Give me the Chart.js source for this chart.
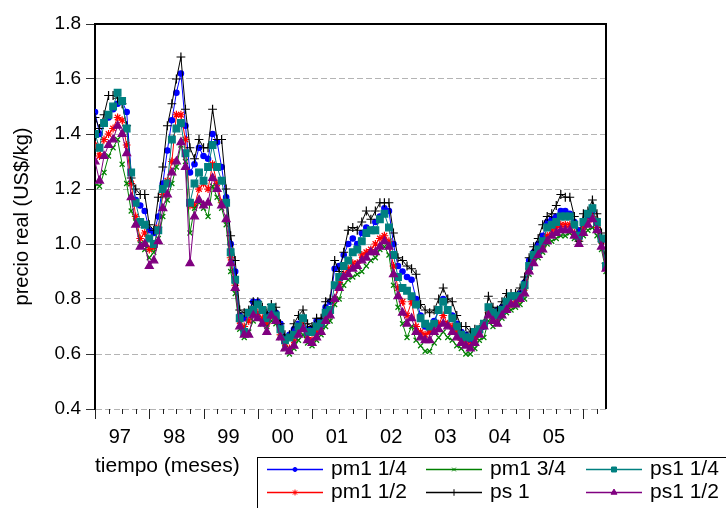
<!DOCTYPE html>
<html>
<head>
<meta charset="utf-8">
<script src="https://cdn.jsdelivr.net/npm/chart.js"></script>
<style>
  html, body { margin: 0; padding: 0; background: #fff; }
</style>
</head>
<body>
<canvas id="chart" width="726" height="508"></canvas>
<script>
// monthly series, 1997M01 .. 2006M06
const yearLabels = ['97', '98', '99', '00', '01', '02', '03', '04', '05']

const pm1_14 = [
  1.48,1.40,1.44,1.46,1.49,1.51,1.52,1.48,1.26,1.16,1.14,1.12,
  1.05,1.04,1.10,1.22,1.34,1.45,1.55,1.62,1.43,1.26,1.29,1.35,
  1.32,1.31,1.40,1.37,1.28,1.17,1.00,0.90,0.74,0.73,0.75,0.79,
  0.79,0.76,0.74,0.76,0.75,0.71,0.66,0.67,0.69,0.71,0.73,0.69,
  0.69,0.72,0.72,0.77,0.79,0.91,0.92,0.96,1.00,1.02,1.00,1.04,
  1.06,1.05,1.08,1.10,1.13,1.12,1.00,0.92,0.90,0.88,0.87,0.80,
  0.74,0.70,0.69,0.72,0.76,0.80,0.76,0.74,0.71,0.68,0.67,0.65,
  0.66,0.68,0.70,0.77,0.75,0.76,0.77,0.79,0.81,0.81,0.82,0.86,
  0.94,0.97,1.00,1.03,1.08,1.09,1.10,1.12,1.12,1.11,1.08,1.05,
  1.08,1.10,1.12,1.08,1.01,0.92
]
const pm1_12 = [
  1.36,1.32,1.38,1.40,1.42,1.46,1.45,1.36,1.22,1.10,1.02,1.04,
  0.98,0.99,1.06,1.18,1.23,1.30,1.47,1.47,1.38,1.14,1.14,1.20,
  1.22,1.20,1.29,1.22,1.15,1.15,0.95,0.85,0.72,0.70,0.72,0.75,
  0.75,0.73,0.71,0.74,0.72,0.67,0.64,0.62,0.65,0.69,0.71,0.66,
  0.65,0.68,0.70,0.73,0.75,0.80,0.86,0.89,0.91,0.93,0.93,0.96,
  0.97,0.98,1.00,1.02,1.03,1.01,0.92,0.84,0.79,0.74,0.79,0.70,
  0.68,0.67,0.68,0.70,0.71,0.74,0.71,0.70,0.68,0.65,0.64,0.63,
  0.66,0.68,0.71,0.75,0.73,0.73,0.75,0.77,0.78,0.79,0.80,0.84,
  0.91,0.95,0.98,0.99,1.03,1.05,1.06,1.07,1.07,1.07,1.04,1.02,
  1.06,1.08,1.10,1.06,1.01,0.92
]
const pm1_34 = [
  1.22,1.21,1.26,1.32,1.35,1.38,1.29,1.22,1.12,1.08,1.00,0.98,
  0.95,0.97,1.02,1.10,1.16,1.22,1.28,1.36,1.30,1.04,1.13,1.15,
  1.13,1.10,1.21,1.17,1.13,1.07,0.90,0.82,0.69,0.66,0.68,0.72,
  0.73,0.71,0.70,0.72,0.71,0.66,0.62,0.60,0.62,0.65,0.67,0.64,
  0.63,0.65,0.67,0.70,0.72,0.78,0.80,0.85,0.87,0.88,0.89,0.90,
  0.92,0.94,0.95,0.98,0.99,0.96,0.85,0.77,0.71,0.66,0.70,0.65,
  0.63,0.61,0.61,0.64,0.66,0.68,0.66,0.65,0.63,0.62,0.60,0.60,
  0.62,0.65,0.66,0.72,0.70,0.71,0.73,0.75,0.76,0.77,0.78,0.80,
  0.89,0.93,0.95,0.97,1.00,1.01,1.02,1.03,1.03,1.04,1.02,1.00,
  1.03,1.05,1.06,1.03,0.98,0.90
]
const ps_1 = [
  1.46,1.42,1.47,1.54,1.54,1.53,1.51,1.43,1.24,1.20,1.18,1.18,
  1.07,1.05,1.17,1.28,1.43,1.51,1.60,1.68,1.49,1.35,1.31,1.38,
  1.35,1.35,1.49,1.38,1.38,1.20,1.03,0.94,0.76,0.75,0.76,0.79,
  0.79,0.77,0.75,0.78,0.77,0.71,0.67,0.67,0.71,0.74,0.76,0.71,
  0.70,0.73,0.73,0.79,0.80,0.94,0.90,0.97,1.05,1.06,1.05,1.08,
  1.12,1.09,1.12,1.15,1.15,1.15,1.04,0.95,0.94,0.92,0.91,0.89,
  0.78,0.76,0.75,0.76,0.80,0.84,0.80,0.79,0.74,0.70,0.70,0.68,
  0.69,0.69,0.71,0.81,0.77,0.76,0.79,0.82,0.82,0.82,0.84,0.88,
  0.95,0.99,1.02,1.07,1.10,1.11,1.14,1.18,1.17,1.17,1.10,1.01,
  1.11,1.12,1.16,1.11,1.04,0.93
]
const ps1_14 = [
  1.40,1.35,1.44,1.47,1.50,1.55,1.52,1.42,1.26,1.15,1.08,1.07,
  1.02,1.00,1.05,1.20,1.22,1.38,1.42,1.44,1.33,1.15,1.22,1.26,
  1.23,1.28,1.36,1.28,1.23,1.15,0.97,0.87,0.73,0.68,0.75,0.76,
  0.78,0.76,0.73,0.77,0.74,0.69,0.65,0.66,0.67,0.70,0.73,0.68,
  0.68,0.70,0.71,0.75,0.76,0.85,0.88,0.92,0.94,0.97,0.98,1.01,
  1.04,1.05,1.05,1.09,1.11,1.06,0.96,0.88,0.84,0.83,0.81,0.78,
  0.73,0.71,0.70,0.71,0.76,0.79,0.76,0.73,0.70,0.67,0.66,0.66,
  0.68,0.69,0.71,0.77,0.75,0.74,0.76,0.79,0.81,0.81,0.81,0.85,
  0.92,0.96,0.98,1.01,1.06,1.07,1.08,1.10,1.10,1.10,1.07,1.03,
  1.08,1.11,1.13,1.08,1.02,0.92
]
const ps1_12 = [
  1.30,1.23,1.32,1.36,1.38,1.43,1.40,1.33,1.17,1.07,0.99,1.00,
  0.92,0.94,1.01,1.13,1.18,1.26,1.30,1.37,1.28,0.93,1.10,1.16,
  1.14,1.15,1.24,1.20,1.14,1.09,0.93,0.84,0.70,0.67,0.67,0.74,
  0.73,0.71,0.68,0.74,0.72,0.66,0.62,0.61,0.63,0.67,0.69,0.65,
  0.64,0.66,0.68,0.72,0.74,0.80,0.84,0.88,0.89,0.91,0.92,0.94,
  0.95,0.97,0.97,0.99,1.01,0.99,0.89,0.81,0.75,0.71,0.73,0.68,
  0.66,0.65,0.65,0.68,0.69,0.71,0.70,0.68,0.66,0.64,0.63,0.62,
  0.64,0.67,0.70,0.74,0.72,0.71,0.74,0.76,0.78,0.78,0.80,0.82,
  0.90,0.93,0.96,0.98,1.01,1.03,1.04,1.05,1.05,1.05,1.03,1.00,
  1.04,1.07,1.09,1.05,0.99,0.91
]

const seriesNames = ['pm1 1/4', 'pm1 1/2', 'pm1 3/4', 'ps 1', 'ps1 1/4', 'ps1 1/2']
const seriesValues = [pm1_14, pm1_12, pm1_34, ps_1, ps1_14, ps1_12]
const seriesColors = ['#0000ff', '#ff0000', '#008000', '#000000', '#008080', '#800080']
const seriesMarkers = ['circle', 'star', 'crossRot', 'cross', 'rect', 'triangle']
const markerSizes = [2.7, 3.9, 3.5, 4.4, 4.7, 4.6]

Chart.defaults.font.family = "'Liberation Sans', Arial, sans-serif"
Chart.defaults.color = '#000'

const datasets = seriesNames.map((name, k) => ({
  label: name,
  data: seriesValues[k].map((v, i) => ({x: i, y: v})),
  borderColor: seriesColors[k],
  backgroundColor: seriesColors[k],
  borderWidth: 1,
  pointStyle: seriesMarkers[k],
  pointRadius: markerSizes[k],
  pointBorderWidth: 1.2,
  pointHoverRadius: markerSizes[k],
  tension: 0,
  order: seriesNames.length - k   // last series drawn on top
}))

// frame (top/right) and quarterly axis tick marks
const framePlugin = {
  id: 'frame',
  afterDraw(chart) {
    const {ctx, chartArea: a} = chart
    const x = chart.scales.x
    ctx.save()
    ctx.strokeStyle = '#000'
    ctx.lineWidth = 2
    ctx.beginPath()
    ctx.moveTo(a.left, a.top)
    ctx.lineTo(a.right, a.top)
    ctx.lineTo(a.right, a.bottom)
    ctx.stroke()

    ctx.lineWidth = 1
    ctx.strokeStyle = '#222'
    ctx.beginPath()
    for (let m = 0; m <= x.max; m += 3) {
      const px = Math.round(x.getPixelForValue(m)) + 0.5
      const len = m % 12 === 0 ? 10 : 5
      ctx.moveTo(px, a.bottom)
      ctx.lineTo(px, a.bottom + len)
    }
    ctx.stroke()
    ctx.restore()
  }
}

// boxed legend, 3 columns x 2 rows
const boxLegend = {
  id: 'boxLegend',
  afterDraw(chart) {
    const ctx = chart.ctx
    const colX = [267, 426, 586]
    const rowY = [469, 492]
    ctx.save()
    ctx.strokeStyle = '#000'
    ctx.lineWidth = 1
    ctx.strokeRect(257.5, 457.5, 520, 80)
    ctx.font = "21px 'Liberation Sans', Arial, sans-serif"
    ctx.textBaseline = 'middle'
    ctx.textAlign = 'left'
    chart.data.datasets.forEach((ds, k) => {
      const lx = colX[Math.floor(k / 2)]
      const ly = rowY[k % 2]
      ctx.strokeStyle = ds.borderColor
      ctx.fillStyle = ds.borderColor
      ctx.lineWidth = 1.5
      ctx.beginPath()
      ctx.moveTo(lx, ly + 0.5)
      ctx.lineTo(lx + 56, ly + 0.5)
      ctx.stroke()
      ctx.lineWidth = 1
      Chart.helpers.drawPoint(ctx, {
        pointStyle: ds.pointStyle, radius: ds.pointRadius * 0.75, rotation: 0, borderWidth: 1
      }, lx + 28, ly + 0.5)
      ctx.fillStyle = '#000'
      ctx.fillText(ds.label, lx + 64, ly)
    })
    ctx.restore()
  }
}

new Chart(document.getElementById('chart'), {
  type: 'line',
  data: {datasets},
  options: {
    responsive: false,
    animation: false,
    events: [],
    layout: {padding: {top: 24, right: 120, bottom: 0, left: 0}},
    plugins: {legend: {display: false}, tooltip: {enabled: false}},
    scales: {
      x: {
        type: 'linear',
        min: 0,
        max: ps_1.length - 1,
        afterBuildTicks: (scale) => {
          scale.ticks = yearLabels.map((_, k) => ({value: k * 12 + 5.5}))
        },
        afterFit: (scale) => { scale.height = 99 },
        ticks: {
          autoSkip: false,
          maxRotation: 0,
          padding: 16,
          font: {size: 20},
          callback: (v, idx) => yearLabels[idx]
        },
        grid: {display: false, drawTicks: false},
        border: {display: false},
        title: {
          display: true,
          text: 'tiempo (meses)',
          align: 'start',
          font: {size: 21},
          padding: {top: 4, bottom: 29}
        }
      },
      y: {
        min: 0.4,
        max: 1.8,
        afterFit: (scale) => { scale.width = 95 },
        ticks: {
          stepSize: 0.2,
          padding: 5,
          font: {size: 19},
          callback: (v) => v.toFixed(1)
        },
        grid: {
          color: (c) => (c.tick && c.tick.value > 1.79) ? 'rgba(0,0,0,0)' : '#b4b4b4',
          tickColor: '#333',
          tickLength: 9,
          lineWidth: 1
        },
        border: {display: true, color: '#000', width: 2, dash: [6, 3]},
        title: {
          display: true,
          text: 'precio real (US$/kg)',
          font: {size: 20},
          padding: {top: 10, bottom: 0}
        }
      }
    }
  },
  plugins: [framePlugin, boxLegend]
})
</script>
</body>
</html>
